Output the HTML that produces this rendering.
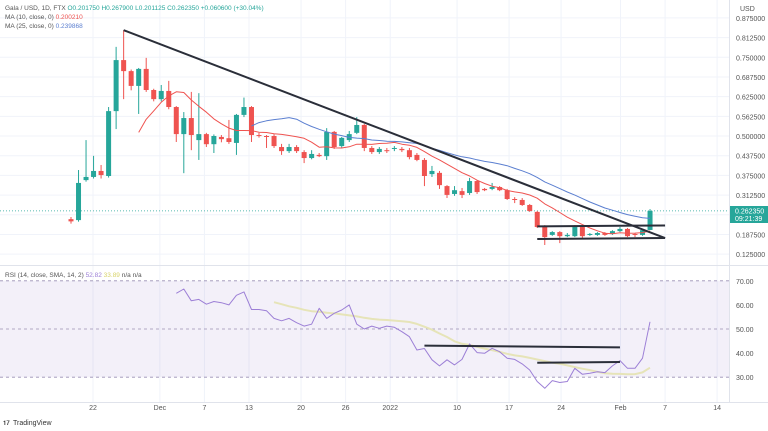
<!DOCTYPE html>
<html><head><meta charset="utf-8"><style>
html,body{margin:0;padding:0;background:#fff;}
svg{display:block;font-family:"Liberation Sans",sans-serif;}
</style></head><body>
<svg id="c" width="768" height="431" viewBox="0 0 768 431"></svg>
<script>
const opens  = [.236,.233,.360,.370,.389,.373,.579,.741,.706,.659,.713,.646,.617,.643,.592,.506,.557,.487,.506,.474,.497,.493,.478,.567,.592,.503,.500,.500,.465,.452,.465,.449,.430,.440,.436,.513,.468,.487,.510,.535,.462,.449,.455,.459,.459,.455,.440,.424,.379,.383,.341,.316,.325,.319,.357,.332,.332,.338,.328,.300,.297,.281,.259,.214,.186,.195,.182,.182,.211,.186,.186,.192,.189,.198,.205,.189,.186,.2017];
const highs  = [.243,.392,.487,.437,.408,.592,.783,.836,.711,.716,.748,.650,.662,.675,.595,.576,.640,.636,.510,.505,.503,.551,.570,.622,.595,.510,.503,.506,.475,.475,.471,.455,.455,.446,.525,.516,.497,.516,.560,.538,.468,.465,.462,.468,.465,.462,.446,.430,.405,.389,.344,.341,.335,.367,.360,.335,.351,.341,.332,.306,.303,.284,.262,.217,.198,.198,.192,.217,.214,.192,.195,.195,.201,.211,.208,.192,.204,.2679];
const lows   = [.222,.228,.355,.365,.365,.368,.522,.617,.645,.570,.640,.610,.610,.585,.481,.382,.455,.424,.465,.446,.480,.475,.440,.560,.481,.495,.462,.462,.440,.446,.446,.414,.426,.433,.424,.459,.462,.481,.506,.452,.443,.443,.446,.452,.449,.426,.420,.341,.370,.332,.303,.310,.303,.313,.316,.325,.328,.325,.297,.287,.278,.259,.208,.154,.183,.160,.179,.179,.176,.183,.183,.183,.186,.195,.179,.179,.183,.2011];
const closes = [.229,.351,.370,.389,.376,.579,.741,.706,.659,.713,.646,.617,.643,.592,.506,.557,.503,.506,.474,.500,.490,.481,.567,.592,.503,.500,.497,.468,.452,.465,.452,.430,.443,.436,.513,.465,.494,.506,.535,.462,.449,.459,.452,.462,.455,.433,.424,.373,.389,.344,.313,.328,.313,.357,.322,.328,.338,.328,.300,.297,.281,.262,.211,.179,.195,.182,.186,.211,.182,.189,.192,.186,.198,.205,.182,.186,.201,.2623];
const rsiStart = 14;
const rsiValues = [64.8,66.6,61.7,62.3,60.3,61.4,60.9,60,64,65.4,58.1,58.1,57.6,54.4,53.4,54.4,52.6,51.2,52,58.6,54.4,56.5,57.9,60,52,50,51.2,50.3,51.2,50.7,48.9,46.8,41.3,41.9,37.2,34.7,37.2,35.1,37.4,43.8,40.2,39.9,42,40.6,37.9,37.4,35.5,33,28.2,25.4,28.6,27.8,28.2,33.7,31.2,31.6,32.3,31.9,34.7,36.9,33.7,33.7,37.9,53];
const priceTicks = [0.125,0.1875,0.3125,0.375,0.4375,0.5,0.5625,0.625,0.6875,0.75,0.8125,0.875];
const rsiTicks = [30,40,50,60,70];
const dateLabels = ["22","Dec","7","13","20","26","2022","10","17","24","Feb","7","14"];
const dateIdx = [3,12,18,24,31,37,43,52,59,66,74,80,87];
const trendMain = [[7,0.836],[79,0.176]];
const trendTop = [[62,0.213],[79,0.216]];
const trendBot = [[62,0.173],[79,0.176]];
const rsiLine1 = [[47,43.1],[73,42.4]];
const rsiLine2 = [[62,36],[73,36.3]];

const NS="http://www.w3.org/2000/svg";
const svg=document.getElementById('c');
function el(t,a,p){const e=document.createElementNS(NS,t);for(const k in a)e.setAttribute(k,a[k]);(p||svg).appendChild(e);return e;}
const x=i=>71+i*7.52;
const xl=i=>93+(i-3)*7.43;
const y=p=>136+(0.5-p)*315;
const ry=v=>329-(v-50)*2.41;
const plotR=729;

dateIdx.forEach(i=>{const l=el('line',{x1:xl(i),x2:xl(i),y1:0,y2:402,stroke:'#f0f3fa'});});
priceTicks.concat([0.25]).forEach(p=>{const l=el('line',{x1:0,x2:plotR,y1:y(p),y2:y(p),stroke:'#f0f3fa'});});
const band=el('rect',{x:0,y:ry(70),width:plotR,height:ry(30)-ry(70),fill:'#7e57c2','fill-opacity':0.09});

[70,50,30].forEach(v=>{const l=el('line',{x1:0,x2:plotR,y1:ry(v),y2:ry(v),stroke:'#9a8fb3','stroke-dasharray':'3,3','stroke-width':0.8});});
el('line',{x1:0,x2:768,y1:265.5,y2:265.5,stroke:'#e0e3eb'});
el('line',{x1:plotR+.5,x2:plotR+.5,y1:0,y2:402,stroke:'#e0e3eb'});
el('line',{x1:0,x2:768,y1:402.5,y2:402.5,stroke:'#e0e3eb'});
const cp=el('line',{x1:0,x2:plotR,y1:y(closes[closes.length-1]),y2:y(closes[closes.length-1]),stroke:'#26a69a','stroke-dasharray':'1,2','stroke-width':0.8});


const cg=el('g',{});
closes.forEach((c,i)=>{
  const o=opens[i],col=c>=o?'#26a69a':'#ef5350';
  const w=el('line',{x1:x(i),x2:x(i),y1:y(highs[i]),y2:y(lows[i]),stroke:col,'stroke-width':1},cg);
  
  const t=Math.min(y(o),y(c)),h=Math.max(1,Math.abs(y(o)-y(c)));
  const b=el('rect',{x:x(i)-2.5,y:t,width:5,height:h,fill:col},cg);
  
});
function ma(n){const r=[];for(let i=n-1;i<closes.length;i++){let s=0;for(let k=i-n+1;k<=i;k++)s+=closes[k];r.push([i,s/n]);}return r;}
function poly(pts,col,w,name,fy){const d=pts.map((p,j)=>(j?'L':'M')+x(p[0]).toFixed(1)+','+fy(p[1]).toFixed(1)).join('');const e=el('path',{d:d,fill:'none',stroke:col,'stroke-width':w,'stroke-linejoin':'round'});return e;}
poly(ma(10),'#ef5350',1,'ma10-line',y);
poly(ma(25),'#5b7fd0',1,'ma25-line',y);
const rsiPts=rsiValues.map((v,j)=>[rsiStart+j,v]);
const sma=[];for(let j=13;j<rsiValues.length;j++){let s=0;for(let k=j-13;k<=j;k++)s+=rsiValues[k];sma.push([rsiStart+j,s/14]);}
poly(sma,'#e6e4b8',2,'rsi-sma-line',ry);
poly(rsiPts,'#9c7fd6',1,'rsi-line',ry);
function seg(s,fy,name){const e=el('line',{x1:x(s[0][0]),y1:fy(s[0][1]),x2:x(s[1][0]),y2:fy(s[1][1]),stroke:'#2a2e39','stroke-width':2});}
seg(trendMain,y,'downtrend-line');seg(trendTop,y,'range-top-line');seg(trendBot,y,'range-bottom-line');
seg(rsiLine1,ry,'rsi-resistance-line');seg(rsiLine2,ry,'rsi-support-line');

function txt(s,a,name,inter){const e=el('text',a);e.textContent=s;return e;}
priceTicks.forEach(p=>txt(p.toFixed(6),{x:736,y:y(p)+3,'font-size':7,fill:'#555'},'price-tick-label'));
rsiTicks.forEach(v=>txt(v.toFixed(2),{x:736,y:ry(v)+3,'font-size':7,fill:'#555'},'rsi-tick-label'));
dateLabels.forEach((s,j)=>txt(s,{x:xl(dateIdx[j]),y:410,'font-size':7,fill:'#555','text-anchor':'middle'},'date-tick-label'));
txt('USD',{x:740,y:11,'font-size':7,fill:'#555'},'currency-label');
const lab=el('rect',{x:730,y:206,width:38,height:17,fill:'#26a69a'});
txt('0.262350',{x:735,y:213.5,'font-size':7,fill:'#fff'},'current-price-value');
txt('09:21:39',{x:735,y:221,'font-size':7,fill:'#fff'},'bar-countdown');
const lg=txt('',{x:5,y:10,'font-size':6.5,fill:'#555'},'price-legend');
lg.innerHTML='Gala / USD, 1D, FTX  <tspan fill="#26a69a">O0.201750  H0.267900  L0.201125  C0.262350  +0.060600 (+30.04%)</tspan>';
const l2=txt('',{x:5,y:19,'font-size':6.5,fill:'#555'},'ma10-legend');l2.innerHTML='MA (10, close, 0)  <tspan fill="#ef5350">0.200210</tspan>';
const l3=txt('',{x:5,y:28,'font-size':6.5,fill:'#555'},'ma25-legend');l3.innerHTML='MA (25, close, 0)  <tspan fill="#5b7fd0">0.239868</tspan>';
const l4=txt('',{x:5,y:277,'font-size':6.5,fill:'#555'},'rsi-legend');l4.innerHTML='RSI (14, close, SMA, 14, 2)  <tspan fill="#9c7fd6">52.82</tspan>  <tspan fill="#d8d36a">33.89</tspan>  n/a  n/a';
txt('TradingView',{x:13,y:425,'font-size':7,fill:'#333'},'tradingview-logo');
txt('𝟏𝟕',{x:3,y:425,'font-size':6,fill:'#333'},'tradingview-icon');
</script>
</body></html>
